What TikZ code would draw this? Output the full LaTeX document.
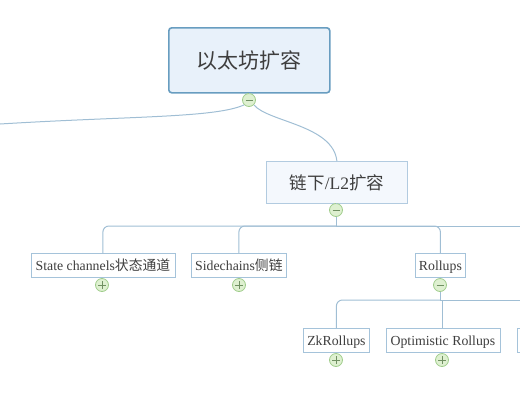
\documentclass[tikz,border=0pt]{standalone}
\usepackage{xcolor}
\usepackage{fontspec}
\setmainfont{Liberation Serif}
\newfontfamily\cjk{Noto Sans CJK SC}
\usetikzlibrary{positioning,calc}
\definecolor{rootborder}{RGB}{104,157,192}
\definecolor{rootfill}{RGB}{232,241,250}
\definecolor{subborder}{RGB}{178,203,224}
\definecolor{subfill}{RGB}{244,248,253}
\definecolor{leafborder}{RGB}{165,195,218}
\definecolor{linkc}{RGB}{160,190,212}
\definecolor{togborder}{RGB}{160,205,140}
\definecolor{togfill}{RGB}{222,240,208}
\definecolor{inkc}{RGB}{62,62,62}
\tikzset{
  topicbase/.style={rectangle, inner sep=0pt, text=inkc, anchor=north west},
  roottopic/.style={topicbase, draw=rootborder, fill=rootfill, line width=1.6pt, rounded corners=3pt,
                    minimum width=161pt, minimum height=65pt, font=\fontsize{21}{21}\selectfont},
  subtopic/.style={topicbase, draw=subborder, fill=subfill, line width=0.8pt,
                   minimum width=141pt, minimum height=42pt, font=\fontsize{17.5}{17.5}\selectfont},
  leaf/.style={topicbase, draw=leafborder, fill=white, line width=0.8pt, text height=11pt, text depth=1pt,
               minimum height=24pt, font=\fontsize{13.8}{13.8}\selectfont},
  link/.style={draw=linkc, line width=1pt},
  bus/.style={link, rounded corners=6pt},
  toggle/.style={circle, draw=togborder, fill=togfill, line width=0.8pt, minimum size=13pt, inner sep=0pt},
  minus/.style={toggle, path picture={\draw[togborder!70!black, line width=0.6pt]
                ($(path picture bounding box.center)+(-3.5pt,0)$) -- ($(path picture bounding box.center)+(3.5pt,0)$);}},
  plus/.style={toggle, path picture={\draw[togborder!70!black, line width=0.6pt]
                ($(path picture bounding box.center)+(-4pt,0)$) -- ($(path picture bounding box.center)+(4pt,0)$)
                ($(path picture bounding box.center)+(0,-4pt)$) -- ($(path picture bounding box.center)+(0,4pt)$);}}
}
\begin{document}
\begin{tikzpicture}[x=1pt,y=-1pt]
\clip (0,0) rectangle (520,400);
% free ends and buses
\coordinate (offleft) at (0,124);
\coordinate (busa) at (336,226);
\coordinate (busaend) at (530,226);
\coordinate (busb) at (440,300);
\coordinate (busbend) at (530,300);
% topics
\node[roottopic] (root) at (168,27) {\cjk 以太坊扩容};
\node[subtopic] (l2) at (266,161) {{\cjk 链下}/L2{\cjk 扩容}};
\node[leaf, minimum width=144pt] (state) at (30.5,253) {State channels{\cjk 状态通道}};
\node[leaf, minimum width=95pt] (side) at (191,253) {Sidechains{\cjk 侧链}};
\node[leaf, minimum width=50pt] (rollups) at (415,253) {Rollups};
\node[leaf, minimum width=66pt] (zk) at (303,328) {ZkRollups};
\node[leaf, minimum width=114pt] (opt) at (385.5,328) {Optimistic Rollups};
\node[leaf, minimum width=40pt] (third) at (517,328) {};
% toggles
\node[minus] (rootm) at (249,100) {};
\node[minus] (l2m) at (336,210) {};
\node[minus] (rollupsm) at (440,285) {};
\node[plus] (statep) at (102,285) {};
\node[plus] (sidep) at (239,285) {};
\node[plus] (zkp) at (336,360) {};
\node[plus] (optp) at (442,360) {};
% connectors
\draw[link] (rootm.north) -- (root.south -| rootm.north);
\draw[link] (rootm.south west) .. controls (215,118) and (130,116) .. (offleft);
\draw[link] (rootm.south east) .. controls (268,122) and (333,125) .. (l2.north);
\draw[link] (l2m.north) -- (l2.south -| l2m.north);
\draw[link] (l2m.south) -- (busa);
\draw[bus] (busa) -| (state.north);
\draw[bus] (busa) -| (side.north);
\draw[bus] (busa) -| (rollups.north);
\draw[link] (busa) -- (busaend);
\draw[link] (rollupsm.south) -- (busb);
\draw[bus] (busb) -| (zk.north);
\draw[link] (busb) -- (busbend);
\draw[link] (opt.north) -- (opt.north |- busb);
\end{tikzpicture}
\end{document}
